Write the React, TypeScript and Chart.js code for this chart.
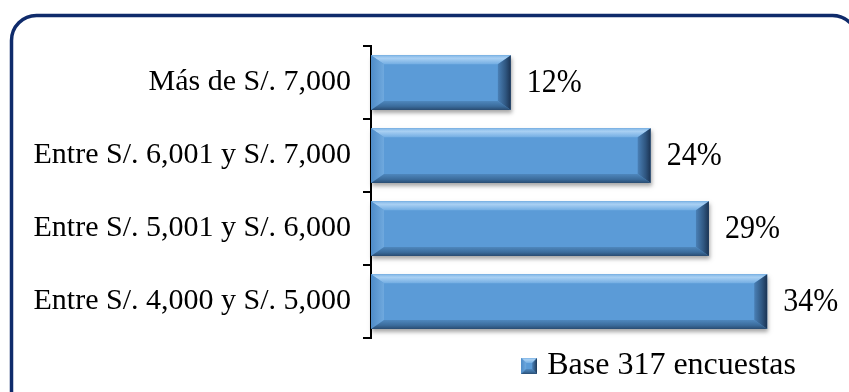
import React, { useEffect, useRef } from "react";
import { Chart, registerables } from "chart.js";

Chart.register(...registerables);

const categories = [
  "Más de S/. 7,000",
  "Entre S/. 6,001 y S/. 7,000",
  "Entre S/. 5,001 y S/. 6,000",
  "Entre S/. 4,000 y S/. 5,000",
];
const values = [12, 24, 29, 34];
const seriesName = "Base 317 encuestas";
const axisMax = 37.5;

const FONT = "'Liberation Serif', 'Times New Roman', serif";

function poly(ctx: CanvasRenderingContext2D, pts: number[][], fill: any) {
  ctx.beginPath();
  ctx.moveTo(pts[0][0], pts[0][1]);
  for (let i = 1; i < pts.length; i++) ctx.lineTo(pts[i][0], pts[i][1]);
  ctx.closePath();
  ctx.fillStyle = fill;
  ctx.fill();
}

function drawBevel(ctx: CanvasRenderingContext2D, left: number, top: number, w: number, h: number, bx: number, by: number, shadow: boolean) {
  const right = left + w;
  const bottom = top + h;
  ctx.save();
  if (shadow) {
    ctx.shadowColor = "rgba(0,0,0,0.35)";
    ctx.shadowBlur = 4;
    ctx.shadowOffsetX = 1;
    ctx.shadowOffsetY = 3;
  }
  ctx.fillStyle = "#5b9bd7";
  ctx.fillRect(left, top, w, h);
  ctx.restore();
  // top
  let g = ctx.createLinearGradient(0, top, 0, top + by);
  g.addColorStop(0, "#7fb5e6");
  g.addColorStop(0.35, "#a9d0f3");
  g.addColorStop(1, "#74aee3");
  poly(ctx, [[left, top], [right, top], [right - bx, top + by], [left + bx, top + by]], g);
  // left
  g = ctx.createLinearGradient(left, 0, left + bx, 0);
  g.addColorStop(0, "#4f8cc8");
  g.addColorStop(1, "#6fa9de");
  poly(ctx, [[left, top], [left + bx, top + by], [left + bx, bottom - by], [left, bottom]], g);
  // bottom
  g = ctx.createLinearGradient(0, bottom - by, 0, bottom);
  g.addColorStop(0, "#4f88be");
  g.addColorStop(0.6, "#3b6c9c");
  g.addColorStop(1, "#2a4d73");
  poly(ctx, [[left, bottom], [left + bx, bottom - by], [right - bx, bottom - by], [right, bottom]], g);
  // right
  g = ctx.createLinearGradient(right - bx, 0, right, 0);
  g.addColorStop(0, "#4a80b6");
  g.addColorStop(0.6, "#2f5680");
  g.addColorStop(1, "#1b3352");
  poly(ctx, [[right, top], [right, bottom], [right - bx, bottom - by], [right - bx, top + by]], g);
}

const framePlugin = {
  id: "frame",
  beforeDraw(chart: any) {
    const ctx = chart.ctx as CanvasRenderingContext2D;
    ctx.save();
    ctx.fillStyle = "#ffffff";
    ctx.fillRect(0, 0, chart.width, chart.height);
    ctx.strokeStyle = "#0f2b6b";
    ctx.lineWidth = 3.5;
    ctx.beginPath();
    (ctx as any).roundRect(11.5, 15.5, 846, 400, 25);
    ctx.stroke();
    ctx.restore();
  },
};

const bevelPlugin = {
  id: "bevelBars",
  afterDatasetsDraw(chart: any) {
    const ctx = chart.ctx as CanvasRenderingContext2D;
    const meta = chart.getDatasetMeta(0);
    meta.data.forEach((bar: any, i: number) => {
      const p = bar.getProps(["x", "y", "base", "height"], true);
      const left = Math.min(p.base, p.x);
      const right = Math.max(p.base, p.x);
      const top = p.y - p.height / 2;
      drawBevel(ctx, left, top, right - left, p.height, 13, 9, true);
      ctx.save();
      ctx.fillStyle = "#000";
      ctx.font = `30px ${FONT}`;
      ctx.textAlign = "left";
      ctx.textBaseline = "middle";
      ctx.translate(right + 16, p.y + 1);
      ctx.scale(1, 1.1);
      ctx.fillText(`${values[i]}%`, 0, 0);
      ctx.restore();
    });
  },
};

export default function App() {
  const ref = useRef<HTMLCanvasElement | null>(null);
  useEffect(() => {
    document.body.style.margin = "0";
    const marker = document.createElement("canvas");
    marker.width = 16;
    marker.height = 16;
    const mctx = marker.getContext("2d")!;
    drawBevel(mctx, 0, 0, 16, 16, 5, 5, false);

    const chart = new Chart(ref.current!, {
      type: "bar",
      data: {
        labels: categories,
        datasets: [
          {
            label: seriesName,
            data: values,
            backgroundColor: "rgba(0,0,0,0)",
            borderWidth: 0,
            barPercentage: 0.75,
            categoryPercentage: 1,
          },
        ],
      },
      options: {
        indexAxis: "y",
        animation: false,
        responsive: false,
        devicePixelRatio: 1,
        layout: { padding: { top: 46, bottom: 0, left: 0, right: 41 } },
        scales: {
          x: { display: false, min: 0, max: axisMax },
          y: {
            afterFit(scale: any) {
              scale.width = 371;
            },
            grid: {
              display: true,
              offset: true,
              drawOnChartArea: false,
              tickLength: 8,
              color: "#000",
              lineWidth: 2,
            },
            border: { color: "#000", width: 2 },
            ticks: {
              font: { family: FONT, size: 30 },
              color: "#000",
              padding: 12,
            },
          },
        },
        plugins: {
          tooltip: { enabled: false },
          legend: {
            position: "bottom",
            align: "end",
            labels: {
              usePointStyle: true,
              pointStyle: marker as any,
              pointStyleWidth: 4,
              font: { family: FONT, size: 32 },
              color: "#000",
              padding: 12,
            },
          },
        },
      },
      plugins: [framePlugin, bevelPlugin],
    });
    return () => chart.destroy();
  }, []);
  return (
    <div style={{ width: 849, height: 392 }}>
      <canvas ref={ref} width={849} height={392} style={{ display: "block" }} />
    </div>
  );
}
